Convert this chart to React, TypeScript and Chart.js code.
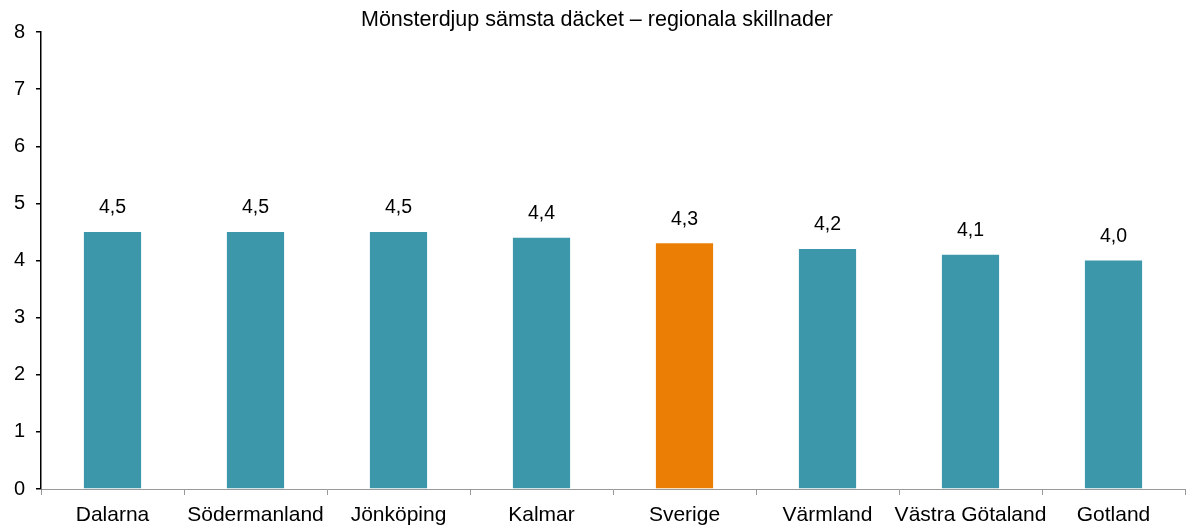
import React, { useEffect, useRef } from "react";
import { Chart, registerables } from "chart.js";

Chart.register(...registerables);

const title = "Mönsterdjup sämsta däcket – regionala skillnader";
const categories = ["Dalarna", "Södermanland", "Jönköping", "Kalmar", "Sverige", "Värmland", "Västra Götaland", "Gotland"];
const values = [4.5, 4.5, 4.5, 4.4, 4.3, 4.2, 4.1, 4.0];
const yTicks = [0, 1, 2, 3, 4, 5, 6, 7, 8];

const TEAL = "#3d97ab";
const ORANGE = "#eb7f05";
const FONT = "'Liberation Sans', Arial, Helvetica, sans-serif";

export default function App() {
  const ref = useRef<HTMLCanvasElement | null>(null);

  useEffect(() => {
    document.body.style.margin = "0";
    const canvas = ref.current;
    if (!canvas) return;

    const labelPlugin = {
      id: "valueLabels",
      afterDatasetsDraw(chart: any) {
        const ctx = chart.ctx;
        const meta = chart.getDatasetMeta(0);
        ctx.save();
        ctx.font = `19.5px ${FONT}`;
        ctx.fillStyle = "#000";
        ctx.textAlign = "center";
        ctx.textBaseline = "middle";
        meta.data.forEach((bar: any, i: number) => {
          ctx.fillText(values[i].toFixed(1).replace(".", ","), bar.x, bar.y - 24);
        });
        ctx.restore();
      },
    };

    const titlePlugin = {
      id: "customTitle",
      afterDraw(chart: any) {
        const ctx = chart.ctx;
        ctx.save();
        ctx.font = `21.5px ${FONT}`;
        ctx.fillStyle = "#000";
        ctx.textAlign = "center";
        ctx.textBaseline = "middle";
        ctx.fillText(title, 597, 20);
        ctx.restore();
      },
    };

    const chart = new Chart(canvas, {
      type: "bar",
      data: {
        labels: categories,
        datasets: [
          {
            data: values,
            backgroundColor: categories.map((c) => (c === "Sverige" ? ORANGE : TEAL)),
            borderWidth: 0,
            barPercentage: 0.4,
            categoryPercentage: 1,
          },
        ],
      },
      options: {
        animation: false,
        responsive: false,
        maintainAspectRatio: false,
        layout: { padding: { top: 32, left: 0, right: 1, bottom: 0 } },
        plugins: {
          legend: { display: false },
          title: { display: false },
          tooltip: { enabled: false },
        },
        scales: {
          x: {
            offset: true,
            grid: {
              offset: true,
              drawOnChartArea: false,
              drawTicks: true,
              tickLength: 6,
              color: "#999",
            },
            border: { display: true, color: "#999", width: 1 },
            ticks: {
              color: "#000",
              font: { family: FONT, size: 21 },
              padding: 8,
              maxRotation: 0,
              autoSkip: false,
            },
            afterFit(scale: any) {
              scale.height = 37;
            },
          },
          y: {
            min: 0,
            max: 8,
            afterBuildTicks(scale: any) {
              scale.ticks = yTicks.map((v) => ({ value: v }));
            },
            grid: {
              drawOnChartArea: false,
              drawTicks: true,
              tickLength: 5,
              color: "#000",
              lineWidth: 1.5,
            },
            border: { display: true, color: "#000", width: 1.5 },
            ticks: {
              color: "#000",
              font: { family: FONT, size: 20 },
              padding: 11,
            },
            afterFit(scale: any) {
              scale.width = 41;
            },
          },
        },
      },
      plugins: [labelPlugin, titlePlugin],
    });

    return () => chart.destroy();
  }, []);

  return (
    <div style={{ width: 1186, height: 526 }}>
      <canvas ref={ref} width={1186} height={526} style={{ display: "block", width: 1186, height: 526 }} />
    </div>
  );
}
